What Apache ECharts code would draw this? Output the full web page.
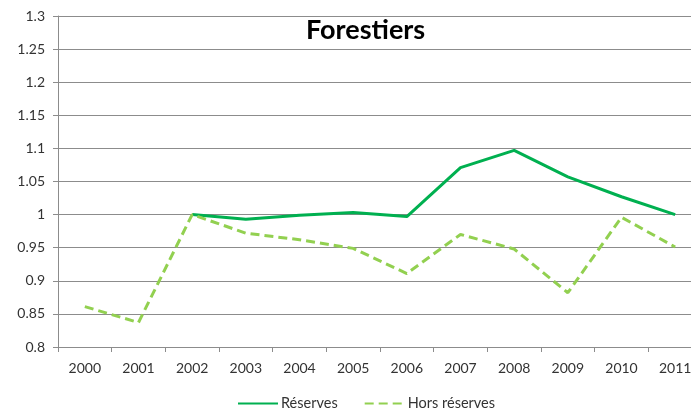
<!DOCTYPE html>
<html>
<head>
<meta charset="utf-8">
<script src="https://cdn.jsdelivr.net/npm/echarts@6/dist/echarts.min.js"></script>
<style>
  html, body { margin: 0; padding: 0; background: #fff; overflow: hidden; }
  #chart { width: 702px; height: 409px; }
</style>
</head>
<body>
<div id="chart"></div>
<script>
const years = ['2000', '2001', '2002', '2003', '2004', '2005', '2006', '2007', '2008', '2009', '2010', '2011']
const reserves = [null, null, 1.0, 0.993, 0.999, 1.003, 0.997, 1.071, 1.097, 1.057, 1.027, 1.0]
const horsReserves = [0.861, 0.837, 1.0, 0.972, 0.962, 0.949, 0.911, 0.970, 0.948, 0.882, 0.996, 0.951]

const font = 'Lato, "Open Sans", sans-serif'
// chart div is a bit wider than the window: the original crops the last category
const chart = echarts.init(document.getElementById('chart'))

chart.setOption({
  animation: false,
  backgroundColor: '#fff',
  title: {
    text: 'Forestiers',
    left: 301,
    top: 12,
    textStyle: { fontFamily: font, fontSize: 27, fontWeight: 'bold', color: '#000' }
  },
  legend: {
    left: 232,
    top: 391,
    itemWidth: 40,
    itemHeight: 10,
    itemGap: 26,
    itemStyle: { opacity: 0 },
    textStyle: { fontFamily: font, fontSize: 14.5, color: '#333', padding: [0, 0, 0, -2] },
    data: ['Réserves', 'Hors réserves']
  },
  grid: { left: 58, right: 0, top: 16, bottom: 62, containLabel: false },
  xAxis: {
    type: 'category',
    data: years,
    boundaryGap: true,
    axisLine: { lineStyle: { color: '#8c8c8c', width: 1 } },
    axisTick: { show: true, interval: 0, length: 5, lineStyle: { color: '#8c8c8c' } },
    axisLabel: { fontFamily: font, fontSize: 14, color: '#333', margin: 14, interval: 0 }
  },
  yAxis: {
    type: 'value',
    min: 0.8,
    max: 1.3,
    interval: 0.05,
    axisLine: { show: true, lineStyle: { color: '#8c8c8c', width: 1 } },
    axisTick: { show: true, length: 5, lineStyle: { color: '#8c8c8c' } },
    splitLine: { lineStyle: { color: '#8c8c8c', width: 1 } },
    axisLabel: {
      fontFamily: font, fontSize: 14, color: '#333', margin: 13,
      formatter: v => String(parseFloat(v.toFixed(2)))
    }
  },
  series: [
    {
      name: 'Réserves',
      type: 'line',
      data: reserves,
      symbol: 'none',
      connectNulls: false,
      lineStyle: { color: '#00b050', width: 3 },
      itemStyle: { color: '#00b050' }
    },
    {
      name: 'Hors réserves',
      type: 'line',
      data: horsReserves,
      symbol: 'none',
      lineStyle: { color: '#92d050', width: 3, type: [9, 5] },
      itemStyle: { color: '#92d050' }
    }
  ]
})
</script>
</body>
</html>
